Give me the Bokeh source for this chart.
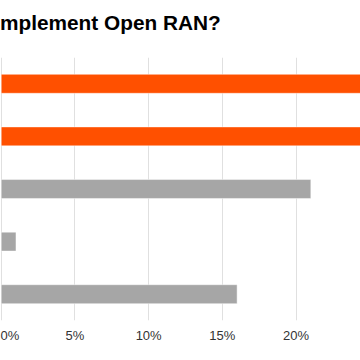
from bokeh.plotting import figure
from bokeh.layouts import column
from bokeh.models import (FactorRange, Range1d, FixedTicker, PrintfTickFormatter,
                          ColumnDataSource, GlobalInlineStyleSheet, Div)
from bokeh.embed import file_html
from bokeh.resources import INLINE

# ---- data ----
categories = ["Already deploying", "Within 12 months", "Within 2-3 years",
              "Within 4-5 years", "No plans"]
values = [29, 27, 21, 1, 16]
bar_colors = ["#FF5000", "#FF5000", "#A6A6A6", "#A6A6A6", "#A6A6A6"]
tick_values = [0, 5, 10, 15, 20, 25]
title_text = "mplement Open RAN?"

source = ColumnDataSource(dict(cat=categories, val=values, color=bar_colors))

title_div = Div(
    text=('<div style="padding-top:13px;font-family:\'Liberation Sans\';font-size:20.8px;'
          'font-weight:bold;line-height:20px;color:#000000;white-space:nowrap;">'
          + title_text + '</div>'),
    width=360, height=57, margin=0)

p = figure(width=360, height=303, output_backend="svg", toolbar_location=None,
           y_range=FactorRange(factors=categories[::-1]),
           x_range=Range1d(-0.05, 24.37),
           min_border_left=0, min_border_right=0, min_border_top=0,
           min_border_bottom=40, margin=0)

p.hbar(y="cat", right="val", left=0, height=0.36, color="color", source=source,
       line_color="white", line_alpha=0.45, line_width=1)

p.outline_line_color = None
p.yaxis.visible = False
p.ygrid.grid_line_color = None
p.xgrid.grid_line_color = "#E0E0E0"
p.xgrid.grid_line_width = 1

ax = p.xaxis[0]
ax.ticker = FixedTicker(ticks=tick_values)
ax.formatter = PrintfTickFormatter(format="%d%%")
ax.axis_line_color = None
ax.major_tick_line_color = None
ax.minor_tick_line_color = None
ax.major_label_standoff = 1
ax.major_label_text_font = "Liberation Sans"
ax.major_label_text_font_size = "13px"
ax.major_label_text_color = "#333333"

layout = column(title_div, p, spacing=0, margin=0)
layout.stylesheets = [GlobalInlineStyleSheet(css="html,body{margin:0;padding:0;overflow:hidden;}")]

open("out.html", "w").write(file_html(layout, INLINE))
